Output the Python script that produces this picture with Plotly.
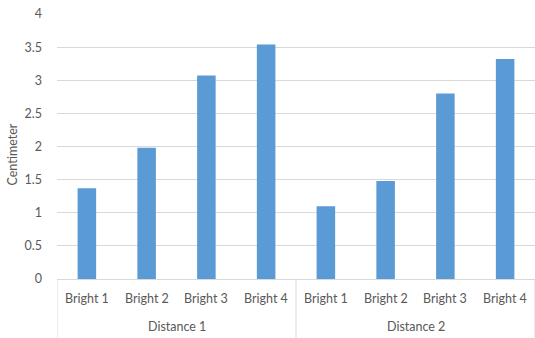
import plotly.graph_objects as go

# Chart data
groups = ["Distance 1", "Distance 2"]
levels = ["Bright 1", "Bright 2", "Bright 3", "Bright 4"]
distance1 = [1.37, 1.98, 3.07, 3.54]
distance2 = [1.10, 1.48, 2.80, 3.32]
y_ticks = [0, 0.5, 1, 1.5, 2, 2.5, 3, 3.5, 4]

values = distance1 + distance2
n = len(values)
xpos = [i + 0.5 for i in range(n)]
cat_labels = levels * len(groups)

TEXT = "#595959"
FONT = "Lato"
SIZE = 12.5

fig = go.Figure()
fig.add_trace(go.Bar(
    x=xpos, y=values, width=0.31,
    marker=dict(color="#5B9BD5", line=dict(width=0)),
    hoverinfo="skip",
))

annotations = []
# inner category labels
for x, lab in zip(xpos, cat_labels):
    annotations.append(dict(x=x, y=0, xref="x", yref="y", text=lab, showarrow=False,
                            yshift=-19, font=dict(family=FONT, size=SIZE, color=TEXT)))
# group labels
per = len(levels)
for g, name in enumerate(groups):
    annotations.append(dict(x=g * per + per / 2, y=0, xref="x", yref="y", text=name,
                            showarrow=False, yshift=-47,
                            font=dict(family=FONT, size=SIZE, color=TEXT)))
# y axis title
annotations.append(dict(x=0, y=0.5, xref="paper", yref="paper", text="Centimeter",
                        showarrow=False, textangle=-90, xanchor="center", yanchor="middle",
                        xshift=-45, yshift=-8,
                        font=dict(family=FONT, size=SIZE, color=TEXT)))

shapes = []
# group dividers below the category axis
for g in range(len(groups) + 1):
    shapes.append(dict(type="line", xref="x", yref="paper", x0=g * per, x1=g * per,
                       y0=0, y1=-0.3, line=dict(color="#D9D9D9", width=1)))

fig.update_layout(
    width=535, height=338,
    margin=dict(l=57, r=0, t=14, b=59),
    paper_bgcolor="white", plot_bgcolor="white",
    showlegend=False,
    annotations=annotations,
    shapes=shapes,
    xaxis=dict(range=[0, n], showticklabels=False, showgrid=False, zeroline=False,
               showline=True, linecolor="#D9D9D9", linewidth=1, fixedrange=True),
    yaxis=dict(range=[0, 4], tickvals=y_ticks, ticktext=[f"{v:g}" for v in y_ticks],
               showgrid=True, gridcolor="#D9D9D9", gridwidth=1, zeroline=False,
               showline=False, ticklabelstandoff=14,
               tickfont=dict(family=FONT, size=SIZE, color=TEXT), fixedrange=True),
    font=dict(family=FONT, color=TEXT),
)

fig.write_html("out.html", config={"displayModeBar": False})
